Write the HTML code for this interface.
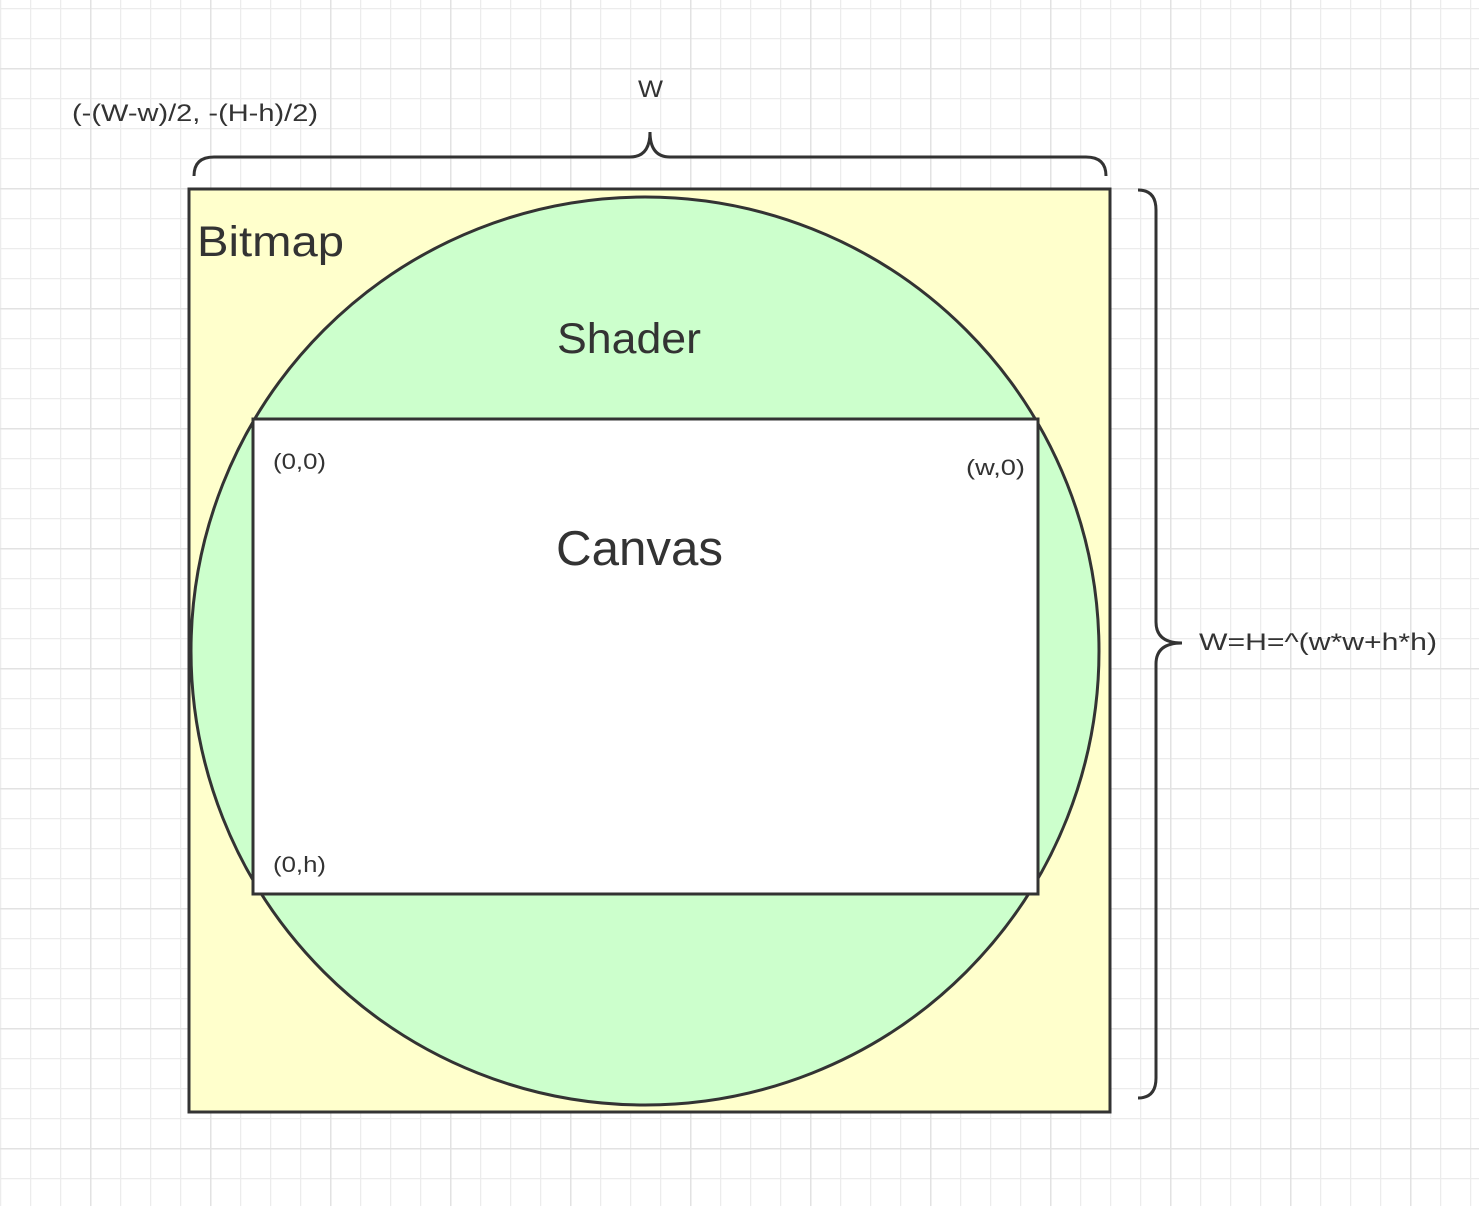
<!DOCTYPE html>
<html><head><meta charset="utf-8"><style>
html,body{margin:0;padding:0;background:#fff}
svg{display:block}
text{font-family:"Liberation Sans","DejaVu Sans",sans-serif;fill:#333}
</style></head><body>
<svg width="1479" height="1206" viewBox="0 0 1479 1206">
<defs>
<pattern id="minor" x="0" y="8" width="30" height="30" patternUnits="userSpaceOnUse">
<path d="M0.5 0V30M0 0.5H30" stroke="#ececec" stroke-width="1.5" fill="none"/>
</pattern>
<pattern id="major" x="90" y="68" width="120" height="120" patternUnits="userSpaceOnUse">
<path d="M0.5 0V120M0 0.5H120" stroke="#e2e2e2" stroke-width="2" fill="none"/>
</pattern>
</defs>
<rect width="1479" height="1206" fill="url(#minor)"/>
<rect width="1479" height="1206" fill="url(#major)"/>

<rect x="189" y="189" width="921" height="923" fill="#ffffcc" stroke="#333" stroke-width="3"/>
<ellipse cx="645" cy="651" rx="454" ry="454" fill="#ccffcc" stroke="#333" stroke-width="3"/>
<rect x="253" y="419" width="785" height="475" fill="#fff" stroke="#333" stroke-width="3"/>

<path d="M194 176 Q194 157 214 157 H630 Q650 157 650 132 Q650 157 670 157 H1086 Q1106 157 1106 176" fill="none" stroke="#333" stroke-width="3"/>
<path d="M1138 190 Q1156 190 1156 210 V622 Q1156 643 1182 643 Q1156 643 1156 664 V1078 Q1156 1098 1138 1098" fill="none" stroke="#333" stroke-width="3"/>

<text x="638" y="97" font-size="24" textLength="25" lengthAdjust="spacingAndGlyphs">W</text>
<text x="72" y="121" font-size="24" textLength="246" lengthAdjust="spacingAndGlyphs">(-(W-w)/2, -(H-h)/2)</text>
<text x="197" y="256" font-size="43" textLength="147" lengthAdjust="spacingAndGlyphs">Bitmap</text>
<text x="557" y="353" font-size="43" textLength="144" lengthAdjust="spacingAndGlyphs">Shader</text>
<text x="556" y="565" font-size="49" textLength="167" lengthAdjust="spacingAndGlyphs">Canvas</text>
<text x="273" y="469" font-size="22" textLength="53" lengthAdjust="spacingAndGlyphs">(0,0)</text>
<text x="966" y="475" font-size="22" textLength="59" lengthAdjust="spacingAndGlyphs">(w,0)</text>
<text x="273" y="872" font-size="22" textLength="53" lengthAdjust="spacingAndGlyphs">(0,h)</text>
<text x="1199" y="650" font-size="24" textLength="238" lengthAdjust="spacingAndGlyphs">W=H=^(w*w+h*h)</text>
</svg>
</body></html>
